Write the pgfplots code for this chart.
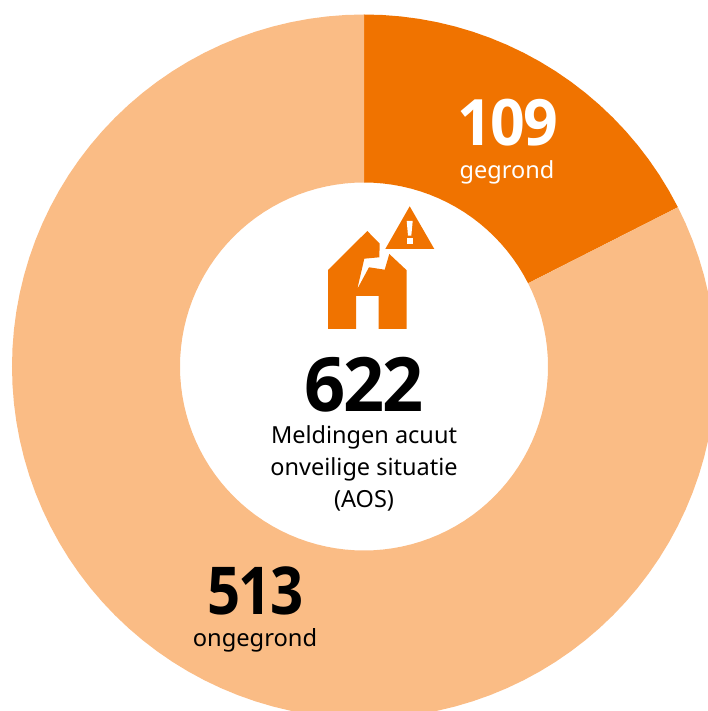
\documentclass[border=0pt]{standalone}
\usepackage{fontspec}
\setmainfont{Noto Sans}
\usepackage{pgfplots}
\pgfplotsset{compat=1.18}
\usepgfplotslibrary{polar}
\definecolor{dark}{HTML}{F07300}
\definecolor{light}{HTML}{FABC85}
\newfontfamily\numfont[LetterSpace=-3,FakeStretch=0.96]{Open Sans}
\newfontfamily\numfontb[LetterSpace=-3,FakeStretch=0.95]{Open Sans}
\newfontfamily\numfontc[LetterSpace=-3,FakeStretch=0.88]{Open Sans}
\begin{document}
\begin{tikzpicture}
\useasboundingbox (0,0) rectangle (708pt,711pt);
\clip (0,0) rectangle (708pt,711pt);
\begin{polaraxis}[
  at={(364pt,344.5pt)}, anchor=center,
  scale only axis, width=704pt, height=704pt,
  axis lines=none, ticks=none, ymin=0, ymax=352, xmin=0, xmax=360, clip=false]
% gegrond: 109 of 622, clockwise from 90 degrees (angle, radius in px)
\addplot[fill=dark, draw=none] coordinates {
(90,352)(87,352)(84,352)(81,352)(78,352)(75,352)(72,352)(69,352)(66,352)(63,352)(60,352)(57,352)(54,352)(51,352)(48,352)(45,352)(42,352)(39,352)(36,352)(33,352)(30,352)(26.9,352)
(26.9,184)(30,184)(33,184)(36,184)(39,184)(42,184)(45,184)(48,184)(51,184)(54,184)(57,184)(60,184)(63,184)(66,184)(69,184)(72,184)(75,184)(78,184)(81,184)(84,184)(87,184)(90,184)};
% ongegrond: 513 of 622
\addplot[fill=light, draw=none] coordinates {
(26.9,352)(24,352)(21,352)(18,352)(15,352)(12,352)(9,352)(6,352)(3,352)(0,352)(-3,352)(-6,352)(-9,352)(-12,352)(-15,352)(-18,352)(-21,352)(-24,352)(-27,352)(-30,352)(-33,352)(-36,352)(-39,352)(-42,352)(-45,352)(-48,352)(-51,352)(-54,352)(-57,352)(-60,352)(-63,352)(-66,352)(-69,352)(-72,352)(-75,352)(-78,352)(-81,352)(-84,352)(-87,352)(-90,352)(-93,352)(-96,352)(-99,352)(-102,352)(-105,352)(-108,352)(-111,352)(-114,352)(-117,352)(-120,352)(-123,352)(-126,352)(-129,352)(-132,352)(-135,352)(-138,352)(-141,352)(-144,352)(-147,352)(-150,352)(-153,352)(-156,352)(-159,352)(-162,352)(-165,352)(-168,352)(-171,352)(-174,352)(-177,352)(-180,352)(-183,352)(-186,352)(-189,352)(-192,352)(-195,352)(-198,352)(-201,352)(-204,352)(-207,352)(-210,352)(-213,352)(-216,352)(-219,352)(-222,352)(-225,352)(-228,352)(-231,352)(-234,352)(-237,352)(-240,352)(-243,352)(-246,352)(-249,352)(-252,352)(-255,352)(-258,352)(-261,352)(-264,352)(-267,352)(-270,352)
(-270,184)(-267,184)(-264,184)(-261,184)(-258,184)(-255,184)(-252,184)(-249,184)(-246,184)(-243,184)(-240,184)(-237,184)(-234,184)(-231,184)(-228,184)(-225,184)(-222,184)(-219,184)(-216,184)(-213,184)(-210,184)(-207,184)(-204,184)(-201,184)(-198,184)(-195,184)(-192,184)(-189,184)(-186,184)(-183,184)(-180,184)(-177,184)(-174,184)(-171,184)(-168,184)(-165,184)(-162,184)(-159,184)(-156,184)(-153,184)(-150,184)(-147,184)(-144,184)(-141,184)(-138,184)(-135,184)(-132,184)(-129,184)(-126,184)(-123,184)(-120,184)(-117,184)(-114,184)(-111,184)(-108,184)(-105,184)(-102,184)(-99,184)(-96,184)(-93,184)(-90,184)(-87,184)(-84,184)(-81,184)(-78,184)(-75,184)(-72,184)(-69,184)(-66,184)(-63,184)(-60,184)(-57,184)(-54,184)(-51,184)(-48,184)(-45,184)(-42,184)(-39,184)(-36,184)(-33,184)(-30,184)(-27,184)(-24,184)(-21,184)(-18,184)(-15,184)(-12,184)(-9,184)(-6,184)(-3,184)(0,184)(3,184)(6,184)(9,184)(12,184)(15,184)(18,184)(21,184)(24,184)(26.9,184)};
\end{polaraxis}
\begin{scope}[x=1pt,y=-1pt,shift={(0pt,711pt)}]
% icon
\fill[dark] (328,270)--(367.3,231)--(379.7,243.7)--(379.3,257.3)--(364.3,258.7)--(357.3,289)--(369,267.3)--(384.7,269.7)--(389.3,254)--(406.7,270.3)--(406.7,329)--(378.7,329)--(378.7,296)--(356,296)--(356,329)--(328,329)--cycle;
\fill[dark] (409.7,206.3)--(434.3,249)--(385.3,249)--cycle;
\fill[white] (406.7,221)--(412.7,221)--(411.3,235.7)--(408,235.7)--cycle;
\fill[white] (407,238.3) rectangle (412.5,244);
% labels
\node[anchor=base,inner sep=0pt,text=black] at (364,412) {\fontsize{75}{75}\selectfont\numfont\bfseries 622};
\node[anchor=base,inner sep=0pt,text=black] at (364,444) {\fontsize{23.5}{32}\selectfont Meldingen acuut};
\node[anchor=base,inner sep=0pt,text=black] at (364,476) {\fontsize{23.5}{32}\selectfont onveilige situatie};
\node[anchor=base,inner sep=0pt,text=black] at (364,508) {\fontsize{23.5}{32}\selectfont (AOS)};
\node[anchor=base,inner sep=0pt,text=white] at (508,146) {\fontsize{64}{64}\selectfont\numfontb\bfseries 109};
\node[anchor=base,inner sep=0pt,text=white] at (507,179) {\fontsize{23.5}{32}\selectfont gegrond};
\node[anchor=base,inner sep=0pt,text=black] at (255.5,615) {\fontsize{66}{66}\selectfont\numfontc\bfseries 513};
\node[anchor=base,inner sep=0pt,text=black] at (255,647) {\fontsize{23.7}{32}\selectfont ongegrond};
\end{scope}
\end{tikzpicture}
\end{document}
